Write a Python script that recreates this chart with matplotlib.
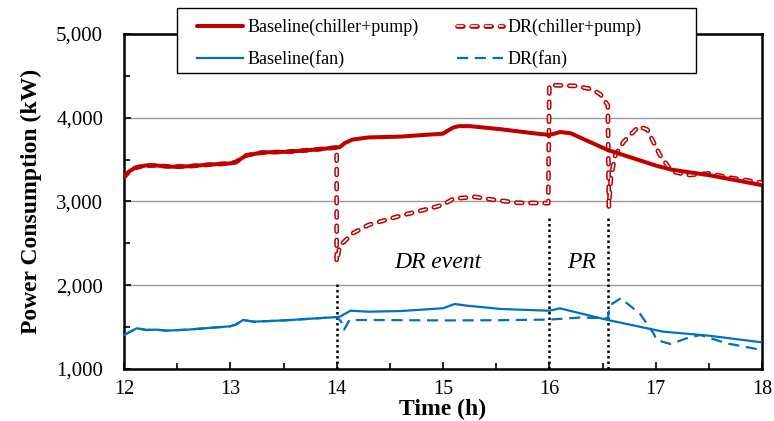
import matplotlib
matplotlib.use("Agg")
import matplotlib.pyplot as plt
import matplotlib.patheffects as pe
from matplotlib.patches import Rectangle
from matplotlib.ticker import MultipleLocator, FuncFormatter

plt.rcParams["font.family"] = ["Liberation Serif", "DejaVu Serif"]

RED = "#C00000"
BLUE = "#0070C0"

# Baseline (chiller + pump)
t_base_ch = [12.0, 12.05, 12.1, 12.2, 12.3, 12.45, 12.6, 12.8, 13.0, 13.05, 13.15, 13.3,
             13.55, 13.8, 14.0, 14.03, 14.08, 14.15, 14.3, 14.6, 15.0, 15.05, 15.1,
             15.15, 15.25, 15.55, 15.85, 16.0, 16.05, 16.1, 16.2, 16.4, 16.55, 17.0,
             17.15, 17.5, 18.0]
p_base_ch = [3290, 3360, 3400, 3430, 3430, 3415, 3420, 3440, 3455, 3470, 3550, 3585,
             3595, 3620, 3645, 3650, 3700, 3740, 3765, 3775, 3810, 3850, 3885,
             3900, 3900, 3862, 3815, 3795, 3810, 3830, 3815, 3700, 3615, 3430,
             3380, 3315, 3195]

# DR (chiller + pump)
t_dr_ch = [12.0, 12.05, 12.1, 12.2, 12.3, 12.45, 12.6, 12.8, 13.0, 13.05, 13.15, 13.3,
           13.55, 13.8, 14.0, 14.0, 14.03, 14.15, 14.3, 14.6, 14.9, 15.0, 15.1, 15.3,
           15.45, 15.7, 15.99, 16.0, 16.25, 16.4, 16.48, 16.55, 16.56, 16.58, 16.62,
           16.7, 16.84, 16.92, 17.04, 17.15, 17.3, 17.5, 17.72, 18.0]
p_dr_ch = [3290, 3360, 3400, 3430, 3430, 3415, 3420, 3440, 3455, 3470, 3550, 3585,
           3595, 3620, 3645, 2280, 2470, 2620, 2720, 2830, 2925, 2960, 3035, 3055,
           3025, 2985, 2980, 4390, 4380, 4340, 4280, 4150, 2940, 3300, 3550,
           3715, 3895, 3860, 3555, 3360, 3315, 3335, 3280, 3225]

# Baseline (fan)
t_base_fan = [12.0, 12.12, 12.21, 12.3, 12.4, 12.6, 13.0, 13.05, 13.12, 13.22, 13.5,
              14.0, 14.03, 14.13, 14.3, 14.6, 15.0, 15.11, 15.22, 15.55, 16.0, 16.1,
              16.23, 16.55, 17.07, 17.5, 18.0]
p_base_fan = [1406, 1486, 1466, 1470, 1458, 1470, 1510, 1530, 1585, 1565, 1580,
              1620, 1625, 1696, 1684, 1692, 1725, 1776, 1757, 1716, 1696, 1724,
              1684, 1585, 1446, 1398, 1318]

# DR (fan)
t_dr_fan = [12.0, 12.12, 12.21, 12.3, 12.4, 12.6, 13.0, 13.05, 13.12, 13.22, 13.5,
            14.0, 14.04, 14.07, 14.12, 14.3, 15.0, 15.5, 16.0, 16.3, 16.55, 16.57,
            16.67, 16.85, 16.98, 17.01, 17.14, 17.29, 17.42, 17.67, 18.0]
p_dr_fan = [1406, 1486, 1466, 1470, 1458, 1470, 1510, 1530, 1585, 1565, 1580,
            1620, 1570, 1470, 1585, 1585, 1580, 1582, 1590, 1615, 1605, 1760,
            1844, 1664, 1425, 1346, 1298, 1366, 1406, 1306, 1227]

# event markers
event_t = [14.0, 16.0, 16.55]
event_top = [2040, 2840, 2800]

W, H = 774, 421
fig = plt.figure(figsize=(W / 100, H / 100), dpi=100)
ax = fig.add_axes([124 / W, 1 - 369 / H, (762 - 124) / W, (369 - 34) / H])

# DR lines first so the baselines sit on top where they coincide
ax.plot(t_dr_ch, p_dr_ch, color="white", lw=1.2, dashes=(3.5, 5.0),
        dash_capstyle="round", solid_joinstyle="round", label="DR(chiller+pump)", zorder=3,
        path_effects=[pe.Stroke(linewidth=3.4, foreground=RED, capstyle="round"), pe.Normal()])
ax.plot(t_dr_fan, p_dr_fan, color=BLUE, lw=1.6, linestyle=(0, (5, 3)),
        label="DR(fan)", zorder=3)
ax.plot(t_base_ch, p_base_ch, color=RED, lw=2.9, solid_joinstyle="round",
        solid_capstyle="round", label="Baseline(chiller+pump)", zorder=4)
ax.plot(t_base_fan, p_base_fan, color=BLUE, lw=1.6, label="Baseline(fan)", zorder=4)

for t, top in zip(event_t, event_top):
    ax.plot([t, t], [1000, top], color="black", lw=1.8, linestyle=(0, (1, 1.2)), zorder=2)

ax.text(14.95, 2270, "DR event", fontsize=17, style="italic", ha="center", va="center")
ax.text(16.3, 2270, "PR", fontsize=17, style="italic", ha="center", va="center")

ax.set_xlim(12, 18)
ax.set_ylim(1000, 5000)
ax.xaxis.set_major_locator(MultipleLocator(1))
ax.xaxis.set_minor_locator(MultipleLocator(0.5))
ax.yaxis.set_major_locator(MultipleLocator(1000))
ax.yaxis.set_minor_locator(MultipleLocator(500))
ax.yaxis.set_major_formatter(FuncFormatter(lambda v, _: f"{int(v):,}"))
ax.grid(axis="y", which="major", color="#9a9a9a", lw=1.0)
ax.set_axisbelow(True)
ax.tick_params(which="both", direction="in", width=1.2)
ax.tick_params(which="major", length=5)
ax.tick_params(which="minor", length=4)
ax.tick_params(axis="y", labelsize=15, pad=15)
ax.tick_params(axis="x", labelsize=14.5, pad=8)
for s in ax.spines.values():
    s.set_linewidth(1.8)

ax.set_xlabel("Time (h)", fontsize=17, fontweight="bold", labelpad=0)
ax.set_ylabel("Power Consumption (kW)", fontsize=17, fontweight="bold", labelpad=10)

# legend (Excel-style box drawn separately)
h, l = ax.get_legend_handles_labels()
order = [2, 3, 0, 1]
leg = fig.legend([h[i] for i in order], [l[i] for i in order], ncol=2,
                 loc="upper left", bbox_to_anchor=(189 / W, 1 - 11 / H),
                 fontsize=13, frameon=False, borderaxespad=0, borderpad=0.45,
                 handlelength=2.55, columnspacing=2.1, handletextpad=0.25,
                 labelspacing=0.75)
fig.patches.append(Rectangle((177 / W, 1 - 73 / H), (696 - 177) / W, 65 / H,
                             transform=fig.transFigure, facecolor="white",
                             edgecolor="black", lw=1.0, zorder=9))
leg.set_zorder(10)

fig.savefig("out.png", dpi=100, facecolor="white")
